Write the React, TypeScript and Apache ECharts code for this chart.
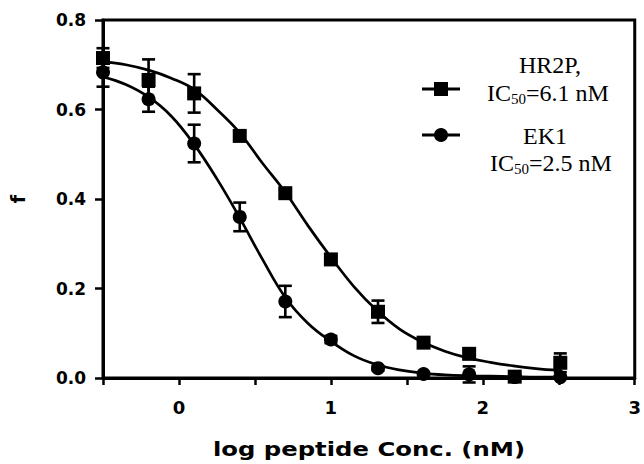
import React, { useEffect, useRef } from "react";
import * as echarts from "echarts";

const xVals = [-0.5, -0.2, 0.1, 0.4, 0.7, 1.0, 1.31, 1.61, 1.91, 2.21, 2.51];
const hr2pMean = [0.715, 0.666, 0.636, 0.541, 0.413, 0.265, 0.148, 0.079, 0.054, 0.003, 0.034];
const hr2pErr = [0.022, 0.046, 0.043, 0.01, 0.008, 0.008, 0.025, 0.006, 0.008, 0.004, 0.021];
const ek1Mean = [0.683, 0.623, 0.524, 0.36, 0.171, 0.086, 0.022, 0.009, 0.008, 0.002, 0.002];
const ek1Err = [0.032, 0.028, 0.042, 0.032, 0.035, 0.008, 0.005, 0.004, 0.018, 0.002, 0.002];

const curveX = [-0.5, -0.35, -0.2, -0.05, 0.1, 0.25, 0.4, 0.55, 0.7, 0.85, 1.0, 1.15, 1.3, 1.45, 1.6, 1.75, 1.9, 2.05, 2.2, 2.35, 2.5];
const hr2pCurve = [0.707, 0.7, 0.688, 0.67, 0.645, 0.6, 0.548, 0.48, 0.415, 0.34, 0.27, 0.205, 0.152, 0.11, 0.081, 0.06, 0.045, 0.035, 0.027, 0.021, 0.017];
const ek1Curve = [0.673, 0.656, 0.628, 0.585, 0.522, 0.445, 0.358, 0.265, 0.18, 0.122, 0.082, 0.05, 0.03, 0.018, 0.011, 0.007, 0.005, 0.004, 0.003, 0.002, 0.002];

const seriesNames = ["HR2P", "EK1"];
const legendLine1 = ["HR2P,", "EK1"];
const legendIC50 = ["6.1", "2.5"];
const xTitle = "log peptide Conc. (nM)";
const yTitle = "f";

const BOLD = "DejaVu Sans";
const SERIF = "Liberation Serif";

function errData(mean: number[], err: number[]) {
  return xVals.map((x, i) => [x, mean[i], err[i]]);
}

function errSeries(name: string, mean: number[], err: number[]) {
  return {
    type: "custom",
    name,
    z: 2,
    data: errData(mean, err),
    renderItem: (params: any, api: any) => {
      const x = api.value(0);
      const y = api.value(1);
      const e = api.value(2);
      const top = api.coord([x, y + e]);
      const bot = api.coord([x, y - e]);
      const w = 6.5;
      const st = { stroke: "#000", lineWidth: 2.6 };
      return {
        type: "group",
        children: [
          { type: "line", shape: { x1: top[0], y1: top[1], x2: bot[0], y2: bot[1] }, style: st },
          { type: "line", shape: { x1: top[0] - w, y1: top[1], x2: top[0] + w, y2: top[1] }, style: st },
          { type: "line", shape: { x1: bot[0] - w, y1: bot[1], x2: bot[0] + w, y2: bot[1] }, style: st },
        ],
      };
    },
  };
}

export default function App() {
  const ref = useRef<HTMLDivElement>(null);
  useEffect(() => {
    if (!ref.current) return;
    const chart = echarts.init(ref.current, null, { renderer: "svg" });
    const lx1 = 422, lx2 = 460, lcx = 441;
    const icRich = {
      n: { fontSize: 24, fontFamily: SERIF, fill: "#000", verticalAlign: "middle", lineHeight: 28 },
      s: { fontSize: 15, fontFamily: SERIF, fill: "#000", verticalAlign: "middle", lineHeight: 16, padding: [12, 0, 0, 0] },
    };
    chart.setOption({
      animation: false,
      backgroundColor: "#fff",
      grid: { left: 103, right: 4, top: 20, bottom: 86, show: true, borderColor: "#000", borderWidth: 3, backgroundColor: "transparent" },
      xAxis: {
        type: "value",
        min: -0.5,
        max: 3,
        interval: 0.5,
        axisLine: { show: true, onZero: false, lineStyle: { color: "#000", width: 3 } },
        axisTick: { show: true, inside: false, length: 7, lineStyle: { color: "#000", width: 2.5 } },
        splitLine: { show: false },
        axisLabel: {
          margin: 20,
          color: "#000",
          fontFamily: BOLD,
          fontWeight: "bold",
          fontSize: 18,
          formatter: (v: number) => (Number.isInteger(v) ? String(v) : ""),
        },
      },
      yAxis: {
        type: "value",
        min: 0,
        max: 0.8,
        interval: 0.2,
        name: yTitle,
        nameLocation: "middle",
        nameRotate: 90,
        nameGap: 76,
        nameTextStyle: { color: "#000", fontFamily: BOLD, fontWeight: "bold", fontSize: 19 },
        axisLine: { show: true, onZero: false, lineStyle: { color: "#000", width: 3 } },
        axisTick: { show: true, inside: false, length: 8, lineStyle: { color: "#000", width: 2.5 } },
        splitLine: { show: false },
        axisLabel: {
          margin: 17,
          color: "#000",
          fontFamily: BOLD,
          fontWeight: "bold",
          fontSize: 17,
          formatter: (v: number) => v.toFixed(1),
        },
      },
      series: [
        {
          type: "line",
          name: seriesNames[0] + " fit",
          data: curveX.map((x, i) => [x, hr2pCurve[i]]),
          smooth: 0.4,
          showSymbol: false,
          symbol: "none",
          lineStyle: { color: "#000", width: 2.7 },
          z: 1,
        },
        {
          type: "line",
          name: seriesNames[1] + " fit",
          data: curveX.map((x, i) => [x, ek1Curve[i]]),
          smooth: 0.4,
          showSymbol: false,
          symbol: "none",
          lineStyle: { color: "#000", width: 2.7 },
          z: 1,
        },
        errSeries(seriesNames[0] + " err", hr2pMean, hr2pErr),
        errSeries(seriesNames[1] + " err", ek1Mean, ek1Err),
        {
          type: "scatter",
          name: seriesNames[0],
          data: xVals.map((x, i) => [x, hr2pMean[i]]),
          symbol: "rect",
          symbolSize: 14,
          itemStyle: { color: "#000", opacity: 1 },
          z: 4,
        },
        {
          type: "scatter",
          name: seriesNames[1],
          data: xVals.map((x, i) => [x, ek1Mean[i]]),
          symbol: "circle",
          symbolSize: 14,
          itemStyle: { color: "#000", opacity: 1 },
          z: 4,
        },
      ],
      graphic: [
        { type: "line", shape: { x1: lx1, y1: 89, x2: lx2, y2: 89 }, style: { stroke: "#000", lineWidth: 3 } },
        { type: "rect", shape: { x: lcx - 7, y: 82, width: 14, height: 14 }, style: { fill: "#000" } },
        { type: "line", shape: { x1: lx1, y1: 135, x2: lx2, y2: 135 }, style: { stroke: "#000", lineWidth: 3 } },
        { type: "circle", shape: { cx: lcx, cy: 135, r: 7 }, style: { fill: "#000" } },
        {
          type: "text",
          x: 550,
          y: 65,
          style: { text: legendLine1[0], fontSize: 24, fontFamily: SERIF, fill: "#000", align: "center", verticalAlign: "middle" },
        },
        {
          type: "text",
          x: 548,
          y: 93,
          style: { text: "{n|IC}{s|50}{n|=" + legendIC50[0] + " nM}", rich: icRich, align: "center", verticalAlign: "middle" },
        },
        {
          type: "text",
          x: 545,
          y: 136,
          style: { text: legendLine1[1], fontSize: 24, fontFamily: SERIF, fill: "#000", align: "center", verticalAlign: "middle" },
        },
        {
          type: "text",
          x: 551,
          y: 163,
          style: { text: "{n|IC}{s|50}{n|=" + legendIC50[1] + " nM}", rich: icRich, align: "center", verticalAlign: "middle" },
        },
        {
          type: "text",
          x: 369,
          y: 449,
          scaleX: 1.28,
          style: { text: xTitle, fontSize: 19, fontFamily: BOLD, fontWeight: "bold", fill: "#000", align: "center", verticalAlign: "middle" },
        },
      ],
    });
    return () => chart.dispose();
  }, []);
  return <div ref={ref} style={{ position: "fixed", left: 0, top: 0, width: 644, height: 464 }} />;
}
